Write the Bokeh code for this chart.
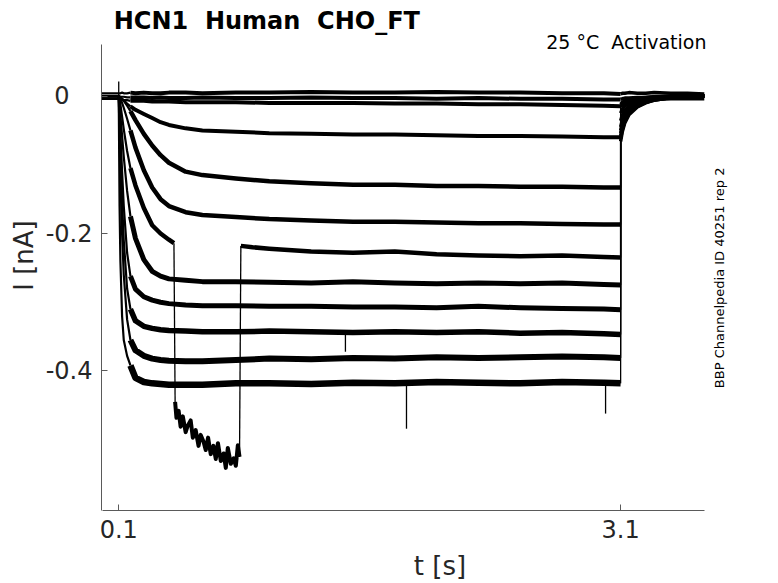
import math
from bokeh.plotting import figure
from bokeh.models import Range1d, FixedTicker, Label
from bokeh.embed import file_html
from bokeh.resources import INLINE

# ---------------- data ----------------
# (a no-break space keeps the double spacing of the original texts visible)
title_text = "HCN1 \u00a0Human \u00a0CHO_FT"
condition_text = "25 °C \u00a0Activation"
source_text = "BBP Channelpedia ID 40251 rep 2"
x_label = "t [s]"
y_label = "I [nA]"

x_ticks = [0.1, 3.1]
x_tick_labels = ["0.1", "3.1"]
y_ticks = [-0.4, -0.2, 0.0]
y_tick_labels = ["-0.4", "-0.2", "0"]

# time points of the voltage step (s)
t_step = [0.0, 0.1, 0.105, 0.11, 0.12, 0.13, 0.15, 0.17, 0.2, 0.25, 0.3, 0.35, 0.4,
          0.5, 0.6, 0.8, 1.0, 1.25, 1.5, 1.75, 2.0, 2.25, 2.5, 2.75, 3.0, 3.1]

# currents during the step (nA)
trace_a1 = [0.004, 0.004, 0.004, 0.004, 0.005, 0.004, 0.004, 0.005, 0.004, 0.005, 0.004, 0.004, 0.005,
            0.005, 0.004, 0.005, 0.005, 0.006, 0.005, 0.005, 0.006, 0.005, 0.005, 0.004, 0.004, 0.003]
trace_a2 = [0.0, 0.0, 0.0, -0.001, -0.001, -0.001, -0.002, -0.002, -0.002, -0.002, -0.003, -0.002, -0.003,
            -0.003, -0.002, -0.003, -0.003, -0.002, -0.003, -0.003, -0.004, -0.003, -0.004, -0.004, -0.005, -0.005]
trace_a3 = [-0.004, -0.004, -0.005, -0.005, -0.006, -0.006, -0.006, -0.007, -0.007, -0.007, -0.008, -0.008, -0.008,
            -0.009, -0.009, -0.009, -0.010, -0.010, -0.010, -0.011, -0.011, -0.012, -0.012, -0.013, -0.014, -0.015]
trace_b = [0.0, 0.0, -0.001, -0.002, -0.004, -0.006, -0.011, -0.015, -0.020, -0.026, -0.032, -0.038, -0.042,
           -0.047, -0.050, -0.052, -0.054, -0.055, -0.056, -0.056, -0.057, -0.058, -0.058, -0.059, -0.060, -0.060]
trace_c = [0.0, 0.0, -0.001, -0.002, -0.004, -0.007, -0.014, -0.022, -0.035, -0.055, -0.072, -0.086, -0.097,
           -0.110, -0.115, -0.120, -0.124, -0.127, -0.129, -0.129, -0.131, -0.131, -0.132, -0.132, -0.133, -0.133]
trace_d = [0.0, 0.0, -0.002, -0.004, -0.010, -0.017, -0.033, -0.050, -0.075, -0.108, -0.133, -0.150, -0.160,
           -0.169, -0.173, -0.176, -0.179, -0.181, -0.183, -0.183, -0.184, -0.185, -0.185, -0.186, -0.187, -0.187]
trace_f = [0.0, 0.0, -0.012, -0.028, -0.058, -0.088, -0.138, -0.175, -0.207, -0.238, -0.255, -0.262, -0.266,
           -0.268, -0.270, -0.270, -0.271, -0.272, -0.270, -0.272, -0.273, -0.272, -0.273, -0.272, -0.274, -0.275]
trace_g = [0.0, 0.0, -0.025, -0.055, -0.110, -0.160, -0.228, -0.262, -0.281, -0.292, -0.297, -0.300, -0.302,
           -0.304, -0.305, -0.305, -0.306, -0.306, -0.307, -0.307, -0.308, -0.306, -0.308, -0.309, -0.310, -0.311]
trace_h = [0.0, 0.0, -0.040, -0.085, -0.155, -0.210, -0.280, -0.310, -0.327, -0.335, -0.338, -0.340, -0.341,
           -0.342, -0.343, -0.343, -0.342, -0.343, -0.344, -0.343, -0.344, -0.343, -0.345, -0.344, -0.346, -0.347]
trace_i = [0.0, 0.0, -0.060, -0.120, -0.200, -0.260, -0.325, -0.355, -0.370, -0.378, -0.382, -0.384, -0.385,
           -0.386, -0.386, -0.384, -0.382, -0.383, -0.381, -0.382, -0.380, -0.381, -0.380, -0.379, -0.380, -0.381]
trace_j = [0.0, 0.0, -0.160, -0.240, -0.320, -0.355, -0.378, -0.392, -0.410, -0.416, -0.418, -0.419, -0.420,
           -0.420, -0.420, -0.418, -0.418, -0.419, -0.417, -0.418, -0.416, -0.417, -0.418, -0.416, -0.417, -0.418]

# trace E with its recording glitch
trace_e_t1 = [0.0, 0.1, 0.105, 0.11, 0.12, 0.13, 0.15, 0.17, 0.2, 0.25, 0.3, 0.35, 0.4, 0.43]
trace_e_v1 = [0.0, 0.0, -0.005, -0.012, -0.030, -0.048, -0.080, -0.105, -0.130, -0.163, -0.188, -0.200, -0.209, -0.214]
glitch_t = [0.437, 0.445, 0.458, 0.47, 0.483, 0.5, 0.512, 0.53, 0.543, 0.56, 0.577, 0.59, 0.607, 0.62,
            0.634, 0.65, 0.666, 0.68, 0.693, 0.71, 0.727, 0.74, 0.752, 0.77, 0.787, 0.8, 0.812, 0.822]
glitch_v = [-0.445, -0.468, -0.458, -0.481, -0.466, -0.489, -0.480, -0.472, -0.497, -0.486, -0.509, -0.493,
            -0.503, -0.515, -0.497, -0.521, -0.509, -0.528, -0.505, -0.531, -0.520, -0.541, -0.512, -0.535,
            -0.527, -0.538, -0.508, -0.525]
trace_e_t2 = [0.83, 0.9, 1.0, 1.25, 1.5, 1.75, 2.0, 2.25, 2.5, 2.75, 3.0, 3.1]
trace_e_v2 = [-0.218, -0.220, -0.222, -0.226, -0.228, -0.226, -0.230, -0.232, -0.233, -0.232, -0.234, -0.235]

# tail currents after the step
t_tail = [3.1, 3.11, 3.125, 3.15, 3.2, 3.25, 3.3, 3.4, 3.5, 3.6]
tail_a1 = [0.003, 0.004, 0.004, 0.005, 0.004, 0.004, 0.005, 0.004, 0.004, 0.003]
tail_a2 = [-0.005, -0.004, -0.003, -0.003, -0.002, -0.002, -0.001, -0.001, 0.0, 0.0]
tail_a3 = [-0.015, -0.013, -0.011, -0.009, -0.007, -0.006, -0.005, -0.004, -0.004, -0.004]
tail_b = [-0.012, -0.009, -0.007, -0.005, -0.003, -0.002, -0.001, 0.0, 0.0, 0.0]
tail_c = [-0.025, -0.019, -0.014, -0.010, -0.006, -0.004, -0.002, -0.001, 0.0, 0.0]
tail_d = [-0.036, -0.028, -0.021, -0.014, -0.008, -0.005, -0.003, -0.001, 0.0, 0.0]
tail_e = [-0.045, -0.035, -0.026, -0.018, -0.011, -0.006, -0.004, -0.001, 0.0, 0.0]
tail_f = [-0.050, -0.039, -0.029, -0.020, -0.012, -0.007, -0.004, -0.001, 0.0, 0.0]
tail_g = [-0.054, -0.043, -0.032, -0.022, -0.013, -0.008, -0.005, -0.001, 0.0, 0.0]
tail_h = [-0.058, -0.046, -0.034, -0.024, -0.014, -0.009, -0.005, -0.002, 0.0, 0.0]
tail_i = [-0.062, -0.049, -0.037, -0.025, -0.015, -0.009, -0.006, -0.002, 0.0, 0.0]
tail_j = [-0.066, -0.052, -0.039, -0.027, -0.016, -0.010, -0.006, -0.002, 0.0, 0.0]

# short spikes in the recordings
spike_t = [0.1, 1.455, 1.82, 3.01]
spike_from = [-0.008, -0.343, -0.418, -0.417]
spike_to = [0.021, -0.372, -0.484, -0.462]

# ---------------- figure ----------------
# The frame is extended to the top and right edges of the canvas so that the
# texts placed there are not clipped; the axes are bounded to the data area.
W, H = 778, 583
LEFT, BOTTOM = 101, 71
px_per_s = 167.3
px_per_nA = 690.0
x0 = -0.003
y0 = -0.603
x1 = x0 + (W - LEFT) / px_per_s
y1 = y0 + (H - BOTTOM) / px_per_nA

p = figure(width=W, height=H, x_range=Range1d(x0, x1), y_range=Range1d(y0, y1),
           output_backend="svg", toolbar_location=None, title=None,
           min_border_left=LEFT, min_border_right=0, min_border_top=0, min_border_bottom=BOTTOM)
p.outline_line_color = None
p.xgrid.visible = False
p.ygrid.visible = False
p.background_fill_color = "white"
p.border_fill_color = "white"

steps = [trace_a1, trace_a2, trace_a3, trace_b, trace_c, trace_d, trace_f, trace_g, trace_h, trace_i, trace_j]
tails = [tail_a1, tail_a2, tail_a3, tail_b, tail_c, tail_d, tail_f, tail_g, tail_h, tail_i, tail_j]
widths = [4.0, 4.0, 4.0, 4.0, 4.5, 4.5, 5.0, 5.0, 5.5, 6.0, 6.5]
ONSET = 7   # index of t = 0.17 s: the fast rising phase is drawn thinner

for vals, tail, w in zip(steps, tails, widths):
    p.line(t_step[:ONSET + 1], vals[:ONSET + 1], line_color="black", line_width=2.2, line_join="round")
    p.line(t_step[ONSET:], vals[ONSET:], line_color="black", line_width=w, line_join="round")
    p.line(t_tail, tail, line_color="black", line_width=3.5, line_join="round")
    p.segment(x0=[t_step[-1]], y0=[vals[-1]], x1=[t_tail[0]], y1=[tail[0]],
              line_color="black", line_width=1.3)

# trace E with glitch
p.line(trace_e_t1[:ONSET + 1], trace_e_v1[:ONSET + 1], line_color="black", line_width=2.2, line_join="round")
p.line(trace_e_t1[ONSET:], trace_e_v1[ONSET:], line_color="black", line_width=4.5, line_join="round")
p.line(glitch_t, glitch_v, line_color="black", line_width=4.0, line_join="round")
p.line(trace_e_t2, trace_e_v2, line_color="black", line_width=4.5, line_join="round")
p.line(t_tail, tail_e, line_color="black", line_width=3.5, line_join="round")
p.segment(x0=[trace_e_t1[-1], glitch_t[-1], trace_e_t2[-1]],
          y0=[trace_e_v1[-1], glitch_v[-1], trace_e_v2[-1]],
          x1=[glitch_t[0], trace_e_t2[0], t_tail[0]],
          y1=[glitch_v[0], trace_e_v2[0], tail_e[0]],
          line_color="black", line_width=1.3)

p.segment(x0=spike_t, y0=spike_from, x1=spike_t, y1=spike_to, line_color="black", line_width=1.3)

# ---------------- axes ----------------
p.xaxis.ticker = FixedTicker(ticks=x_ticks)
p.yaxis.ticker = FixedTicker(ticks=y_ticks)
p.xaxis.major_label_overrides = {t: s for t, s in zip(x_ticks, x_tick_labels)}
p.yaxis.major_label_overrides = {t: (s + "\u00a0\u00a0\u00a0" if t == 0 else s)
                                 for t, s in zip(y_ticks, y_tick_labels)}
p.xaxis.axis_label = x_label
p.yaxis.axis_label = y_label
p.xaxis.bounds = (0.0, 3.6)
p.yaxis.bounds = (y0, 0.075)

axis_col = "#5a5a5a"
for ax in (p.xaxis[0], p.yaxis[0]):
    ax.axis_line_color = axis_col
    ax.axis_line_width = 1
    ax.major_tick_line_color = axis_col
    ax.major_tick_in = 6
    ax.major_tick_out = 0
    ax.minor_tick_line_color = None
    ax.major_label_text_font = "DejaVu Sans"
    ax.major_label_text_font_size = "24px"
    ax.major_label_text_color = "#262626"
    ax.axis_label_text_font = "DejaVu Sans"
    ax.axis_label_text_font_size = "26px"
    ax.axis_label_text_font_style = "normal"
    ax.axis_label_text_color = "#262626"

p.xaxis.major_label_standoff = 9
p.xaxis.axis_label_standoff = 10
p.yaxis.major_label_standoff = 9
p.yaxis.axis_label_standoff = 4

# ---------------- texts ----------------
p.add_layout(Label(x=0.07, y=0.1087, text=title_text, text_font="DejaVu Sans",
                   text_font_style="bold", text_font_size="24px", text_color="black",
                   text_align="left", text_baseline="alphabetic"))
p.add_layout(Label(x=3.613, y=0.0785, text=condition_text, text_font="DejaVu Sans",
                   text_font_size="19px", text_color="black",
                   text_align="right", text_baseline="alphabetic"))
p.add_layout(Label(x=3.691, y=-0.2645, text=source_text, text_font="DejaVu Sans",
                   text_font_size="13px", text_color="black", angle=math.pi / 2,
                   text_align="center", text_baseline="middle"))

open("out.html", "w").write(file_html(p, INLINE))
